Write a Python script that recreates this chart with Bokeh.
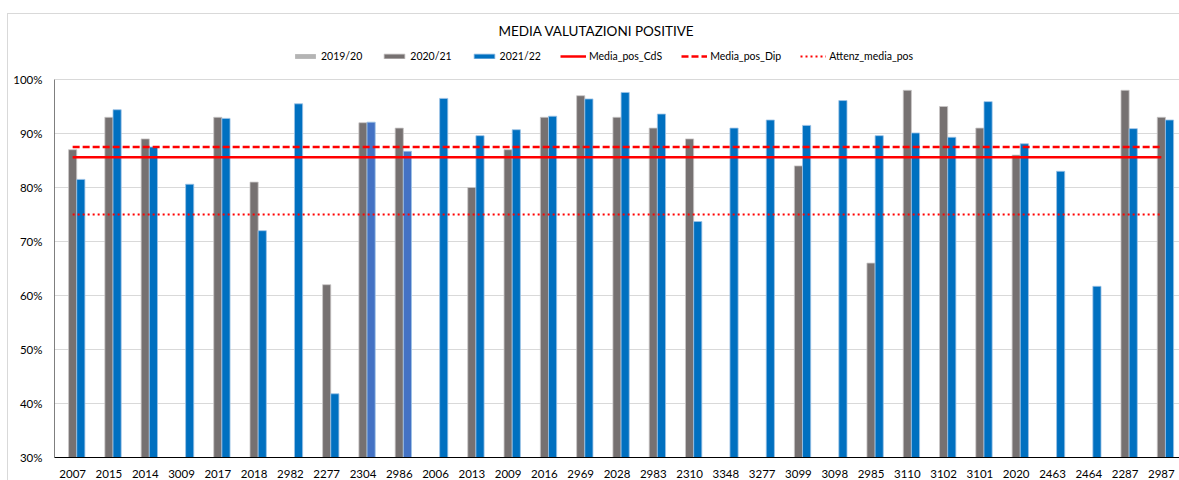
from bokeh.plotting import figure
from bokeh.models import (ColumnDataSource, Legend, LegendItem, FactorRange, Range1d,
                          PrintfTickFormatter, FixedTicker, Label)
from bokeh.transform import dodge
from bokeh.embed import file_html
from bokeh.resources import INLINE

# ---------------- data ----------------
categories = ["2007", "2015", "2014", "3009", "2017", "2018", "2982", "2277", "2304", "2986",
              "2006", "2013", "2009", "2016", "2969", "2028", "2983", "2310", "3348", "3277",
              "3099", "3098", "2985", "3110", "3102", "3101", "2020", "2463", "2464", "2287", "2987"]
nan = float("nan")
s2019_20 = [nan] * len(categories)
s2020_21 = [87, 93, 89, nan, 93, 81, nan, 62, 92, 91,
            nan, 80, 87, 93, 97, 93, 91, 89, nan, nan,
            84, nan, 66, 98, 95, 91, 86, nan, nan, 98, 93]
s2021_22 = [81.5, 94.4, 87.5, 80.6, 92.8, 72.0, 95.5, 41.8, 92.1, 86.7,
            96.5, 89.6, 90.7, 93.2, 96.4, 97.6, 93.6, 73.7, 91.0, 92.5,
            91.5, 96.1, 89.6, 90.1, 89.3, 95.9, 88.1, 83.0, 61.7, 90.9, 92.5]
media_pos_cds = 85.6
media_pos_dip = 87.5
attenz_media_pos = 75.0
y_ticks = [30, 40, 50, 60, 70, 80, 90, 100]
highlighted = ["2304", "2986"]
chart_title = "MEDIA VALUTAZIONI POSITIVE"

# ---------------- style ----------------
FONT = "Lato"
C_1920 = "#b4b4b4"
C_2021 = "#767171"
C_2122 = "#0070c0"
C_2122_HL = "#4472c4"
RED = "#ff0000"
W, H = 1179, 480
FRAME_LEFT, FRAME_TOP, FRAME_BOTTOM = 54, 8, 457
PX_PER_UNIT = 5.4          # pixels per percentage point
y_top = y_ticks[0] + (FRAME_BOTTOM - FRAME_TOP) / PX_PER_UNIT   # headroom for title + legend

colors_2122 = [C_2122_HL if c in highlighted else C_2122 for c in categories]

src = ColumnDataSource(dict(cat=categories, a=s2019_20, b=s2020_21, c=s2021_22, col=colors_2122,
                            cds=[media_pos_cds] * len(categories),
                            dip=[media_pos_dip] * len(categories),
                            att=[attenz_media_pos] * len(categories)))

p = figure(x_range=FactorRange(*categories), y_range=Range1d(y_ticks[0], y_top),
           width=W, height=H, output_backend="svg", toolbar_location=None,
           min_border_left=FRAME_LEFT, min_border_right=0, min_border_top=FRAME_TOP,
           min_border_bottom=H - FRAME_BOTTOM)
p.outline_line_color = None
# transparent canvas so the chart-area border drawn by CSS shows through
p.background_fill_alpha = 0
p.border_fill_alpha = 0
p.styles = {"background": "linear-gradient(#d9d9d9, #d9d9d9) 7px 13px / 1px 100% no-repeat, "
                          "linear-gradient(#d9d9d9, #d9d9d9) 7px 13px / 100% 1px no-repeat, white"}

BW = 0.225
r0 = p.vbar(x=dodge("cat", -BW, range=p.x_range), top="a", bottom=y_ticks[0], width=BW, source=src,
            fill_color=C_1920, line_color=None)
r1 = p.vbar(x=dodge("cat", 0, range=p.x_range), top="b", bottom=y_ticks[0], width=BW, source=src,
            fill_color=C_2021, line_color="#c9c7c7", line_width=0.8)
r2 = p.vbar(x=dodge("cat", BW, range=p.x_range), top="c", bottom=y_ticks[0], width=BW, source=src,
            fill_color="col", line_color="#9dc3e6", line_width=0.8)

l1 = p.line(x="cat", y="cds", source=src, line_color=RED, line_width=2.5)
l2 = p.line(x="cat", y="dip", source=src, line_color=RED, line_width=2.3, line_dash="7 3")
l3 = p.line(x="cat", y="att", source=src, line_color=RED, line_width=2.2, line_dash="2 3")

# vertical axis line only from the lowest to the highest tick
axsrc = ColumnDataSource(dict(x=[categories[0]], y0=[y_ticks[0]], y1=[y_ticks[-1]]))
p.segment(x0=dodge("x", -0.5, range=p.x_range), x1=dodge("x", -0.5, range=p.x_range),
          y0="y0", y1="y1", source=axsrc, line_color="#000000", line_width=1)

# axes
p.yaxis.ticker = FixedTicker(ticks=y_ticks)
p.yaxis.formatter = PrintfTickFormatter(format="%d%%")
for ax in (p.xaxis[0], p.yaxis[0]):
    ax.axis_line_color = "#000000"
    ax.axis_line_width = 1
    ax.major_tick_line_color = None
    ax.minor_tick_line_color = None
    ax.major_label_text_font = FONT
    ax.major_label_text_font_size = "11.5px"
    ax.major_label_text_color = "#000000"
p.yaxis.axis_line_color = None
p.yaxis.major_label_standoff = 6
p.xaxis.major_label_standoff = 6
p.xgrid.grid_line_color = None
p.ygrid.grid_line_color = "#d9d9d9"
p.ygrid.grid_line_width = 1

# title (inside the frame's headroom)
title = Label(x=596 - FRAME_LEFT, y=FRAME_BOTTOM - 30, x_units="screen", y_units="screen",
              text=chart_title, text_font=FONT, text_font_size="13.5px", text_color="#000000",
              text_align="center", text_baseline="middle")
p.add_layout(title)

# legend
legend = Legend(items=[
    LegendItem(label="2019/20", renderers=[r0]),
    LegendItem(label="2020/21", renderers=[r1]),
    LegendItem(label="2021/22", renderers=[r2]),
    LegendItem(label="Media_pos_CdS", renderers=[l1]),
    LegendItem(label="Media_pos_Dip", renderers=[l2]),
    LegendItem(label="Attenz_media_pos", renderers=[l3]),
], orientation="horizontal", location=(292 - FRAME_LEFT, FRAME_BOTTOM - 63))
legend.border_line_color = None
legend.background_fill_alpha = 0
legend.padding = 0
legend.margin = 0
legend.spacing = 19
legend.glyph_width = 26
legend.glyph_height = 6
legend.label_height = 14
legend.label_standoff = 3
legend.label_text_font = FONT
legend.label_text_font_size = "10.5px"
legend.label_text_color = "#000000"
p.add_layout(legend)

open("out.html", "w").write(file_html(p, INLINE))
